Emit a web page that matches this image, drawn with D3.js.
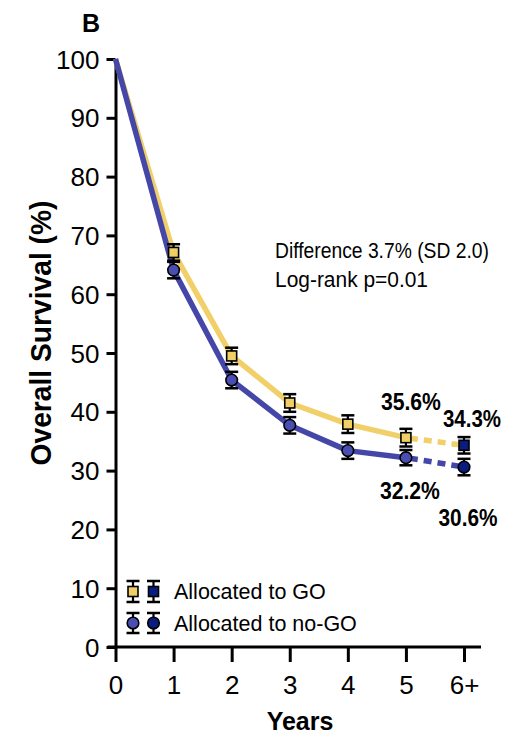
<!DOCTYPE html>
<html>
<head>
<meta charset="utf-8">
<script src="https://cdn.jsdelivr.net/npm/d3@7"></script>
<style>
  html, body { margin: 0; padding: 0; background: #fff; }
  svg { display: block; font-family: "Liberation Sans", Arial, sans-serif; }
</style>
</head>
<body>
<svg id="chart" width="529" height="738"></svg>
<script>
// Overall survival by year, GO vs no-GO
const years = [0, 1, 2, 3, 4, 5, 6];
const yearLabels = ["0", "1", "2", "3", "4", "5", "6+"];
const goSurvival = [100, 67.1, 49.5, 41.5, 37.9, 35.6, 34.3];
const noGoSurvival = [100, 64.1, 45.4, 37.7, 33.4, 32.2, 30.6];
const goError = [0, 1.4, 1.4, 1.5, 1.5, 1.5, 1.4];
const noGoError = [0, 1.4, 1.4, 1.4, 1.4, 1.3, 1.4];
const yTicks = [0, 10, 20, 30, 40, 50, 60, 70, 80, 90, 100];
const legendLabels = ["Allocated to GO", "Allocated to no-GO"];
const annotationLines = ["Difference 3.7% (SD 2.0)", "Log-rank p=0.01"];

const colors = {
  goLine: "#F1D06A",
  goFill: "#F0CF66",
  noGoLine: "#4447A8",
  noGoFill: "#4A4EB2",
  last: "#0A1C7E"
};

const svg = d3.select("#chart");
const x = d3.scaleLinear().domain([0, 6]).range([115.5, 464]);
const y = d3.scaleLinear().domain([0, 100]).range([647, 59]);

// panel letter
svg.append("text").attr("x", 82).attr("y", 32)
  .attr("font-size", 25).attr("font-weight", "bold").text("B");

// y axis
const yAxis = svg.append("g").attr("transform", `translate(${x(0)},0)`)
  .call(d3.axisLeft(y).tickValues(yTicks).tickSize(9).tickSizeOuter(0).tickPadding(7));
yAxis.select(".domain").attr("stroke-width", 3).attr("stroke", "#000");
yAxis.selectAll(".tick line").attr("stroke-width", 3).attr("stroke", "#000");
yAxis.selectAll(".tick text").attr("font-size", 26).attr("fill", "#000")
  .attr("font-family", "Liberation Sans, Arial, sans-serif").attr("dy", "0.35em");

// x axis
const xAxis = svg.append("g").attr("transform", `translate(0,${y(0)})`)
  .call(d3.axisBottom(x).tickValues(years).tickFormat((d, i) => yearLabels[i])
    .tickSize(15).tickSizeOuter(0).tickPadding(14));
xAxis.select(".domain").remove();
xAxis.append("line")
  .attr("x1", x(0) - 8).attr("x2", x(6) + 17)
  .attr("stroke", "#000").attr("stroke-width", 3);
xAxis.selectAll(".tick line").attr("stroke-width", 3).attr("stroke", "#000");
xAxis.selectAll(".tick text").attr("font-size", 26).attr("fill", "#000")
  .attr("font-family", "Liberation Sans, Arial, sans-serif");

// axis titles
svg.append("text").attr("x", 300).attr("y", 730).attr("text-anchor", "middle")
  .attr("font-size", 25).attr("font-weight", "bold").text("Years");
svg.append("text")
  .attr("transform", `translate(51,333) rotate(-90)`)
  .attr("text-anchor", "middle").attr("font-size", 30).attr("font-weight", "bold")
  .attr("textLength", 265).attr("lengthAdjust", "spacingAndGlyphs")
  .text("Overall Survival (%)");

// survival curves: solid through year 5, dotted to 6+
const line = d3.line().x(d => x(d[0])).y(d => y(d[1]));
function drawCurve(values, color) {
  const pts = years.map((t, i) => [t, values[i]]);
  svg.append("path").datum(pts.slice(0, 6)).attr("d", line)
    .attr("fill", "none").attr("stroke", color).attr("stroke-width", 5.5)
    .attr("stroke-linejoin", "round");
  svg.append("path").datum(pts.slice(5)).attr("d", line)
    .attr("fill", "none").attr("stroke", color).attr("stroke-width", 5.5)
    .attr("stroke-dasharray", "8,6").attr("stroke-dashoffset", -4);
}
drawCurve(goSurvival, colors.goLine);
drawCurve(noGoSurvival, colors.noGoLine);

// error bars
function errorBar(g, cx, y0, y1) {
  g.append("line").attr("x1", cx).attr("x2", cx).attr("y1", y0).attr("y2", y1)
    .attr("stroke", "#000").attr("stroke-width", 2.2);
  [y0, y1].forEach(v => g.append("line").attr("x1", cx - 6.5).attr("x2", cx + 6.5)
    .attr("y1", v).attr("y2", v).attr("stroke", "#000").attr("stroke-width", 2.5));
}
function squareMark(g, cx, cy, fill) {
  g.append("rect").attr("x", cx - 5).attr("y", cy - 5).attr("width", 10).attr("height", 10)
    .attr("fill", fill).attr("stroke", "#000").attr("stroke-width", 1.6);
}
function circleMark(g, cx, cy, fill) {
  g.append("circle").attr("cx", cx).attr("cy", cy).attr("r", 5.8)
    .attr("fill", fill).attr("stroke", "#000").attr("stroke-width", 1.6);
}

const marks = svg.append("g");
years.slice(1).forEach(t => {
  const i = t;
  errorBar(marks, x(t), y(goSurvival[i] + goError[i]), y(goSurvival[i] - goError[i]));
  errorBar(marks, x(t), y(noGoSurvival[i] + noGoError[i]), y(noGoSurvival[i] - noGoError[i]));
});
years.slice(1).forEach(t => {
  const i = t;
  squareMark(marks, x(t), y(goSurvival[i]), i === 6 ? colors.last : colors.goFill);
  circleMark(marks, x(t), y(noGoSurvival[i]), i === 6 ? colors.last : colors.noGoFill);
});

// value labels at years 5 and 6+
const valueLabels = [
  { t: 5, v: goSurvival[5], dx: 5, dy: -28, len: 60 },
  { t: 6, v: goSurvival[6], dx: 8, dy: -18, len: 58 },
  { t: 5, v: noGoSurvival[5], dx: 4, dy: 41, len: 60 },
  { t: 6, v: noGoSurvival[6], dx: 4, dy: 59, len: 59 }
];
valueLabels.forEach(d => {
  svg.append("text").attr("x", x(d.t) + d.dx).attr("y", y(d.v) + d.dy)
    .attr("text-anchor", "middle").attr("font-size", 24).attr("font-weight", "bold")
    .attr("textLength", d.len).attr("lengthAdjust", "spacingAndGlyphs")
    .text(d.v.toFixed(1) + "%");
});

// annotation
svg.append("text").attr("x", 275).attr("y", 258).attr("font-size", 22)
  .attr("textLength", 214).attr("lengthAdjust", "spacingAndGlyphs").text(annotationLines[0]);
svg.append("text").attr("x", 275).attr("y", 287).attr("font-size", 22)
  .attr("textLength", 153).attr("lengthAdjust", "spacingAndGlyphs").text(annotationLines[1]);

// legend
const legend = svg.append("g");
const lgX = [133, 153.5];
const lgY = [591.5, 623];
lgX.forEach(cx => {
  errorBar(legend, cx, lgY[0] - 10.5, lgY[0] + 10.5);
  errorBar(legend, cx, lgY[1] - 10, lgY[1] + 10);
});
squareMark(legend, lgX[0], lgY[0], colors.goFill);
squareMark(legend, lgX[1], lgY[0], colors.last);
circleMark(legend, lgX[0], lgY[1], colors.noGoFill);
circleMark(legend, lgX[1], lgY[1], colors.last);
legendLabels.forEach((lab, i) => {
  legend.append("text").attr("x", 174).attr("y", lgY[i] + 7.5)
    .attr("font-size", 21.5).text(lab);
});
</script>
</body>
</html>
